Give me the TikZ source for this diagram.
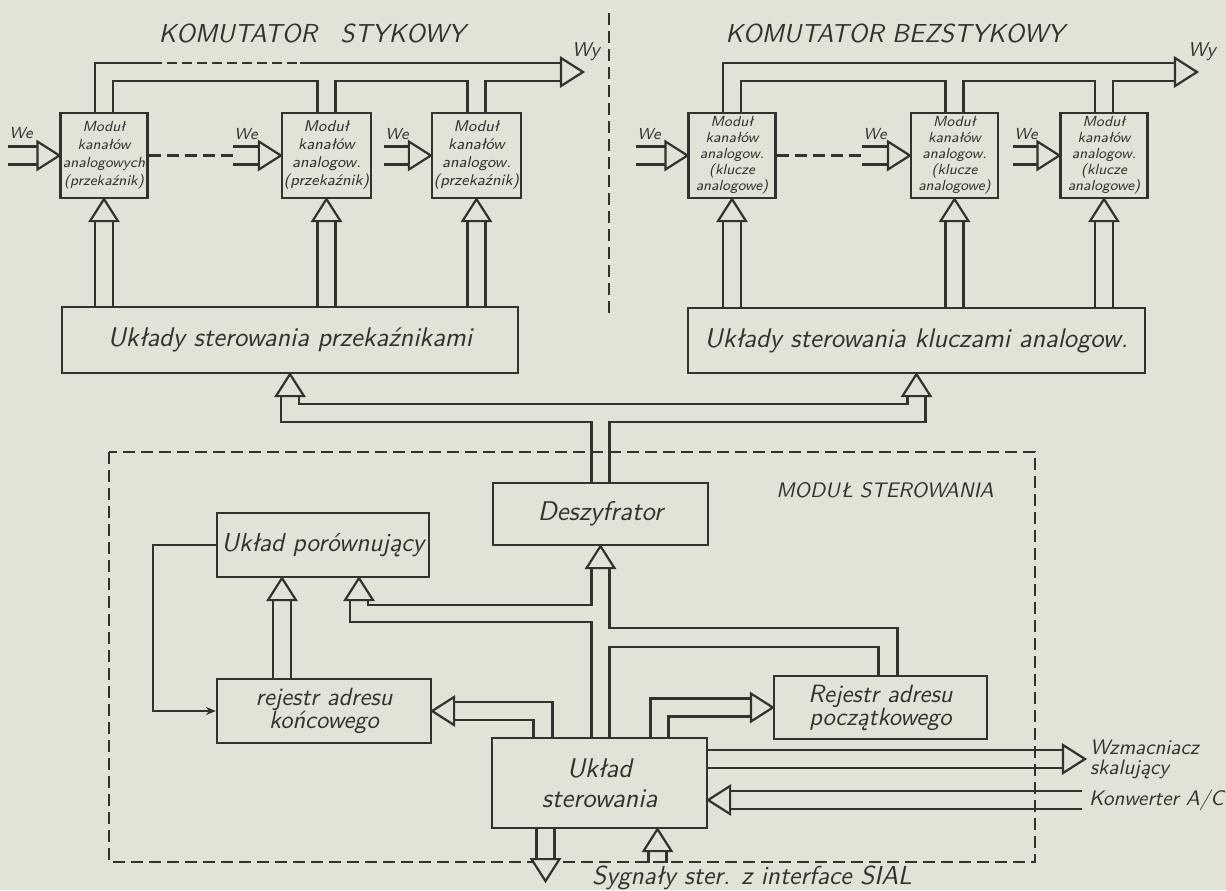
\documentclass[tikz,border=0pt]{standalone}
\usepackage{tikz}
\usetikzlibrary{calc,arrows.meta}
\definecolor{paper}{RGB}{226,226,215}
\definecolor{ink}{RGB}{50,50,46}
% open bus arrow head: name, apex, direction
\newcommand{\bustip}[3]{%
  \begin{scope}[shift={(#2)}, rotate=#3]
    \draw[fill=paper] (0,0) -- (-22,14) -- (-22,-14) -- cycle;
    \coordinate (#1-a) at (-22,9);
    \coordinate (#1-b) at (-22,-9);
  \end{scope}}

\begin{document}
\begin{tikzpicture}[x=0.5pt, y=-0.5pt, color=ink, line width=1.1pt,
  box/.style={draw, line width=1.1pt, inner sep=2pt, align=center,
    font=\sffamily\itshape\fontsize{13.5}{15}\selectfont},
  modbox/.style={box, minimum width=43.5pt, minimum height=42.5pt, inner sep=1pt,
    font=\sffamily\itshape\fontsize{7.8}{9}\selectfont},
  title/.style={font=\sffamily\itshape\fontsize{13}{15}\selectfont},
  tag/.style={inner sep=0pt, font=\sffamily\itshape\fontsize{8}{9}\selectfont},
  side/.style={inner sep=2pt, anchor=west, align=left,
    font=\sffamily\itshape\fontsize{10.5}{10}\selectfont},
  dashes/.style={dash pattern=on 6pt off 3pt}]
\fill[paper] (0,0) rectangle (1226,890);
\useasboundingbox (0,0) rectangle (1226,890);

% Titles
\node[title] (ttlL) at (312,33) {KOMUTATOR\hspace{0.9em}STYKOWY};
\node[title] (ttlR) at (895,33) {KOMUTATOR BEZSTYKOWY};
\draw[dashes] (609,13) -- (609,313);

% Channel modules
\node[modbox, font=\sffamily\itshape\fontsize{7.3}{9}\selectfont] (m1) at (104,155.5)
  {Moduł\\kanałów\\analogowych\\(przekaźnik)};
\node[modbox] (m2) at (326.5,155.5) {Moduł\\kanałów\\analogow.\\(przekaźnik)};
\node[modbox] (m3) at (476.5,155.5) {Moduł\\kanałów\\analogow.\\(przekaźnik)};
\node[modbox, font=\sffamily\itshape\fontsize{7.3}{8}\selectfont] (mA) at (732,155.5)
  {Moduł\\kanałów\\analogow.\\(klucze\\analogowe)};
\node[modbox, font=\sffamily\itshape\fontsize{7.3}{8}\selectfont] (mB) at (954.5,155.5)
  {Moduł\\kanałów\\analogow.\\(klucze\\analogowe)};
\node[modbox, font=\sffamily\itshape\fontsize{7.3}{8}\selectfont] (mC) at (1104,155.5)
  {Moduł\\kanałów\\analogow.\\(klucze\\analogowe)};
\foreach \m in {m1,m2,m3,mA,mB,mC} {
  \coordinate (\m-l) at ([xshift=-4.5pt]\m.north);
  \coordinate (\m-r) at ([xshift=4.5pt]\m.north);
}

% Inputs
\node[tag] (in1) at (21,133) {We};
\node[tag] (in2) at (246,134) {We};
\node[tag] (in3) at (397,134) {We};
\node[tag] (inA) at (649,134) {We};
\node[tag] (inB) at (875,134) {We};
\node[tag] (inC) at (1026,134) {We};
\foreach \m/\i in {m1/in1, m2/in2, m3/in3, mA/inA, mB/inB, mC/inC} {
  \bustip{t\m}{\m.west}{0}
  \draw (t\m-a) -- (t\m-a -| \i.west);
  \draw (t\m-b) -- (t\m-b -| \i.west);
}
\draw[dashes] (m1.east) -- (m1.east -| in2.west);
\draw[dashes] (mA.east) -- (mA.east -| inB.west);

% Outputs
\node[tag, font=\sffamily\itshape\fontsize{10}{11}\selectfont] (outL) at (586,52) {Wy};
\node[tag, font=\sffamily\itshape\fontsize{10}{11}\selectfont] (outR) at (1202,52) {Wy};
\bustip{wyL}{583,72}{0}
\bustip{wyR}{1197,72}{0}
\coordinate (dsh1) at (152,63);
\coordinate (dsh2) at (300,63);
\draw (m1-l) |- (dsh1);
\draw[dash pattern=on 5pt off 2.5pt] (dsh1) -- (dsh2);
\draw (dsh2) -- (wyL-b);
\draw (m1-r) |- (wyL-a -| m2-l) -- (m2-l);
\draw (m2-r) |- (wyL-a -| m3-l) -- (m3-l);
\draw (m3-r) |- (wyL-a);
\draw (mA-l) |- (wyR-b);
\draw (mA-r) |- (wyR-a -| mB-l) -- (mB-l);
\draw (mB-r) |- (wyR-a -| mC-l) -- (mC-l);
\draw (mC-r) |- (wyR-a);

% Switch control circuits
\node[box, minimum width=228pt, minimum height=33pt] (ctlL) at (290,340)
  {Układy sterowania przekaźnikami};
\node[box, minimum width=228.5pt, minimum height=32.5pt] (ctlR) at (916.5,340.5)
  {Układy sterowania kluczami analogow.};
\foreach \m/\c in {m1/ctlL, m2/ctlL, m3/ctlL, mA/ctlR, mB/ctlR, mC/ctlR} {
  \bustip{u\m}{\m.south}{90}
  \draw (u\m-a) -- (u\m-a |- \c.north);
  \draw (u\m-b) -- (u\m-b |- \c.north);
}

% Control module
\draw[dashes] (109,452) rectangle (1035,862);
\node[title, font=\sffamily\itshape\fontsize{10.5}{12}\selectfont] (msLbl) at (885,490) {MODUŁ STEROWANIA};
\node[box, minimum width=107.5pt, minimum height=31pt] (dz) at (600.5,514) {Deszyfrator};
\node[box, minimum width=106pt, minimum height=32pt,
  font=\sffamily\itshape\fontsize{13}{14}\selectfont] (cmp) at (323,545) {Układ porównujący};
\node[box, minimum width=107pt, minimum height=32pt,
  font=\sffamily\itshape\fontsize{12.5}{11.5}\selectfont] (rk) at (324,711)
  {rejestr adresu\\końcowego};
\node[box, minimum width=106.5pt, minimum height=31.5pt,
  font=\sffamily\itshape\fontsize{12.5}{11.5}\selectfont] (rp) at (880.5,707.5)
  {Rejestr adresu\\początkowego};
\node[box, minimum width=107.5pt, minimum height=45pt] (ust) at (599.5,783)
  {Układ\\sterowania};
\coordinate (dz-l) at ([xshift=-4.5pt]dz.north);
\coordinate (dz-r) at ([xshift=4.5pt]dz.north);
\coordinate (rp-l) at ($(rp.north)+(-2,0)$);
\coordinate (rp-r) at ($(rp.north)+(17,0)$);

% Decoder to switch control
\coordinate (busA) at (600,404);
\coordinate (busB) at (600,422);
\bustip{dL}{ctlL.south}{90}
\bustip{dR}{ctlR.south}{90}
\draw (dL-a) |- (dR-b |- busA) -- (dR-b);
\draw (dL-b) |- (dz-l |- busB) -- (dz-l);
\draw (dz-r) |- (dR-a |- busB) -- (dR-a);

% Address buses
\coordinate (busC) at (600,605);
\coordinate (busD) at (600,622);
\coordinate (busE) at (600,628);
\coordinate (busF) at (600,647);
\bustip{tD}{dz.south}{90}
\bustip{tK}{$(cmp.south)+(-41,0)$}{90}
\bustip{tP}{$(cmp.south)+(36,0)$}{90}
\draw (tK-a) -- (tK-a |- rk.north);
\draw (tK-b) -- (tK-b |- rk.north);
\draw (tP-a) |- (tD-b |- busC) -- (tD-b);
\draw (tP-b) |- (tD-b |- busD) -- (tD-b |- ust.north);
\draw (tD-a) |- (rp-r |- busE) -- (rp-r);
\draw (ust.north -| tD-a) |- (rp-l |- busF) -- (rp-l);

% Register loading
\bustip{tR}{rp.west}{0}
\bustip{tL}{rk.east}{180}
\draw (tR-b) -| ($(ust.north)+(51,0)$);
\draw (tR-a) -| ($(ust.north)+(69,0)$);
\draw (tL-a) -| ($(ust.north)+(-47,0)$);
\draw (tL-b) -| ($(ust.north)+(-66,0)$);

% Comparator feedback
\draw[line width=0.7pt, -{Stealth[length=5pt,width=4pt]}] (cmp.west) -- ++(-63,0) |- (rk.west);

% External signals
\node[side] (wz) at (1085,759) {Wzmacniacz\\skalujący};
\node[side, inner sep=3pt] (kc) at (1082,800) {Konwerter A/C};
\node[inner sep=1pt, font=\sffamily\itshape\fontsize{13}{14}\selectfont] (sig) at (752,878)
  {Sygnały ster. z interface SIAL};
\bustip{tW}{wz.west}{0}
\draw (tW-a) -- (tW-a -| ust.east);
\draw (tW-b) -- (tW-b -| ust.east);
\bustip{tC}{ust.east |- kc.west}{180}
\draw (tC-a) -- (tC-a -| kc.west);
\draw (tC-b) -- (tC-b -| kc.west);
\bustip{tO}{$(ust.south)+(-54,52)$}{-90}
\draw (tO-a) -- (tO-a |- ust.south);
\draw (tO-b) -- (tO-b |- ust.south);
\bustip{tI}{$(ust.south)+(58,0)$}{90}
\draw (tI-a) -- (tI-a |- sig.north);
\draw (tI-b) -- (tI-b |- sig.north);
\end{tikzpicture}
\end{document}
